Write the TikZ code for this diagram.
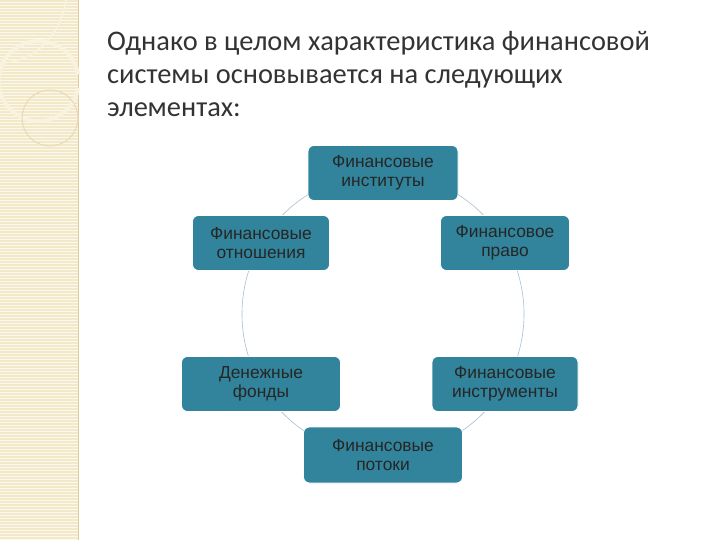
\documentclass[tikz,border=0pt]{standalone}
\usepackage{fontspec}
\setmainfont{Liberation Sans}
\newfontfamily\titlefont{Carlito}
\begin{document}
\begin{tikzpicture}[x=1pt,y=-1pt,
 box/.style={draw=white,line width=0.8pt,fill=boxc,rounded corners=6pt,align=center,font=\fontsize{17.4}{19}\selectfont,text=black!85,inner sep=0pt},
 ring/.style={draw=ringc,line width=0.6pt}]
\definecolor{boxc}{HTML}{31849B}
\definecolor{ringc}{HTML}{A9BFD0}
\definecolor{beige}{HTML}{F3E9C9}
\useasboundingbox (0,0) rectangle (720,540);
\fill[white] (0,0) rectangle (720,540);
\fill[beige] (0,0) rectangle (78,540);
\foreach \y in {2,5,...,540} \draw[white!70!beige,line width=0.5pt] (0,\y) -- (78,\y);
\draw[beige!70!brown,line width=0.6pt] (78,0) -- (78,540);
\draw[white!40!beige,line width=2pt] (66,0) .. controls (60,40) and (30,60) .. (10,62);
\draw[white!40!beige,line width=4pt] (78,88) arc (10:350:40 and 40);
\draw[beige!85!brown,line width=1pt] (78,118) arc (0:360:28);
\node[anchor=north west,align=left,font=\titlefont\fontsize{28.4}{33}\selectfont,text=black!80,inner sep=0pt] (title) at (107,31)
 {Однако в целом характеристика финансовой\\системы основывается на следующих\\элементах:};
\draw[ring] (383,314) circle (141);
\node[box,minimum width=150,minimum height=55] (a) at (383,173) {Финансовые\\институты};
\node[box,minimum width=137,minimum height=55] (b) at (261,243) {Финансовые\\отношения};
\node[box,minimum width=129,minimum height=55] (c) at (505,243) {Финансовое\\право};
\node[box,minimum width=159,minimum height=55] (d) at (261,384) {Денежные\\фонды};
\node[box,minimum width=146,minimum height=55] (e) at (505,384) {Финансовые\\инструменты};
\node[box,minimum width=159,minimum height=56] (f) at (383,455) {Финансовые\\потоки};
\end{tikzpicture}
\end{document}
